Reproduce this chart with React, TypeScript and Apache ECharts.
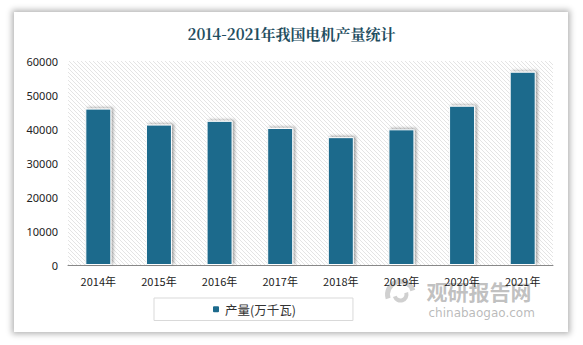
import React, { useEffect, useRef } from "react";
import * as echarts from "echarts";

const categories = ["2014年", "2015年", "2016年", "2017年", "2018年", "2019年", "2020年", "2021年"];
const output = [46000, 41300, 42400, 40300, 37600, 39900, 46850, 56850];
const seriesName = "产量(万千瓦)";
const titleText = "2014-2021年我国电机产量统计";

function makeHatch(): HTMLCanvasElement {
  const c = document.createElement("canvas");
  c.width = 4;
  c.height = 4;
  const ctx = c.getContext("2d")!;
  ctx.fillStyle = "#ffffff";
  ctx.fillRect(0, 0, 4, 4);
  ctx.strokeStyle = "#dddddd";
  ctx.lineWidth = 0.8;
  ctx.beginPath();
  ctx.moveTo(-1, -1);
  ctx.lineTo(5, 5);
  ctx.moveTo(-1, 3);
  ctx.lineTo(1, 5);
  ctx.moveTo(3, -1);
  ctx.lineTo(5, 1);
  ctx.stroke();
  return c;
}

export default function App() {
  const ref = useRef<HTMLDivElement>(null);
  useEffect(() => {
    if (!ref.current) return;
    const chart = echarts.init(ref.current, null, { renderer: "svg" });
    const hatch = makeHatch();
    chart.setOption({
      animation: false,
      title: {
        text: titleText,
        left: "center",
        top: 21,
        textStyle: {
          fontFamily: "'Noto Serif CJK SC', 'Noto Sans CJK SC', serif",
          fontSize: 15,
          fontWeight: "bold",
          color: "#1f4e5f",
        },
      },
      grid: {
        left: 68,
        right: 30,
        top: 61,
        bottom: 80,
        show: true,
        borderWidth: 0,
        backgroundColor: { image: hatch, repeat: "repeat" },
      },
      legend: {
        data: [seriesName],
        left: 154,
        top: 298,
        padding: [5, 57, 5, 57],
        borderColor: "#d9d9d9",
        borderWidth: 1,
        itemWidth: 8,
        itemHeight: 8,
        itemGap: 6,
        textStyle: { fontSize: 12.5, color: "#333", fontFamily: "'Noto Sans CJK SC', sans-serif" },
      },
      xAxis: {
        type: "category",
        data: categories,
        axisLine: { lineStyle: { color: "#888" } },
        axisTick: { show: false },
        axisLabel: { color: "#222", fontSize: 11, margin: 10, fontFamily: "'Noto Sans CJK SC', sans-serif" },
      },
      yAxis: {
        type: "value",
        min: 0,
        max: 60000,
        interval: 10000,
        axisLine: { show: false },
        axisTick: { show: false },
        splitLine: { show: false },
        axisLabel: {
          color: "#222",
          fontSize: 11,
          margin: 10,
          fontFamily: "'Noto Sans', sans-serif",
          formatter: (v: number) => String(v),
        },
      },
      series: [
        {
          name: seriesName,
          type: "bar",
          data: output,
          barWidth: 26,
          itemStyle: {
            color: "#1c6a8c",
            borderColor: "#ffffff",
            borderWidth: 1,
            shadowColor: "rgba(0,0,0,0.35)",
            shadowBlur: 3,
            shadowOffsetX: 2,
            shadowOffsetY: -1,
          },
        },
      ],
      graphic: [
        {
          type: "group",
          left: 385,
          top: 279,
          silent: true,
          children: [
            {
              type: "arc",
              shape: { cx: 18, cy: 14, r: 13, startAngle: Math.PI * 0.9, endAngle: Math.PI * 1.9 },
              style: { stroke: "rgba(150,150,150,0.45)", lineWidth: 5, fill: null },
            },
            {
              type: "arc",
              shape: { cx: 18, cy: 14, r: 6, startAngle: Math.PI * -0.1, endAngle: Math.PI * 0.9 },
              style: { stroke: "rgba(150,150,150,0.45)", lineWidth: 4, fill: null },
            },
            {
              type: "text",
              x: 44,
              y: 0,
              style: {
                text: "观研报告网",
                fontSize: 21,
                fontWeight: "bold",
                fill: "rgba(140,140,140,0.55)",
                fontFamily: "'Noto Sans CJK SC', sans-serif",
              },
            },
            {
              type: "text",
              x: 46,
              y: 26,
              style: {
                text: "chinabaogao.com",
                fontSize: 12,
                fill: "rgba(140,140,140,0.6)",
                fontFamily: "'DejaVu Sans', sans-serif",
              },
            },
          ],
        },
      ],
    });
    return () => chart.dispose();
  }, []);

  return (
    <div style={{ position: "fixed", left: 0, top: 0, width: 583, height: 345, background: "#ffffff" }}>
      <div
        style={{
          position: "absolute",
          left: 14,
          top: 12,
          width: 554,
          height: 320,
          background: "#ffffff",
          boxShadow: "0 0 6px 2px rgba(0,0,0,0.3)",
        }}
      />
      <div ref={ref} style={{ position: "absolute", left: 0, top: 0, width: 583, height: 345 }} />
    </div>
  );
}
